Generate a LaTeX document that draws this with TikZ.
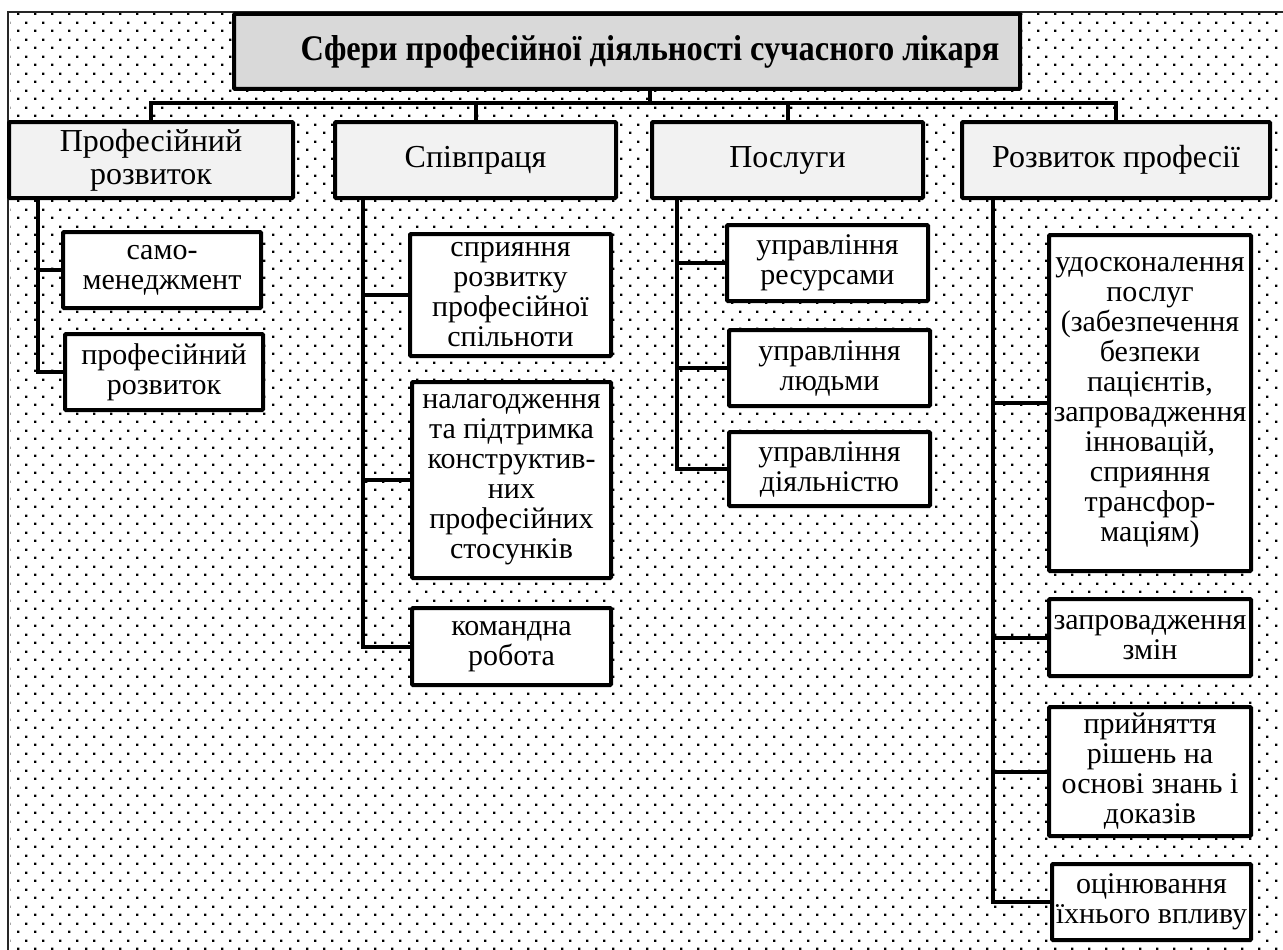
\documentclass[tikz,border=0pt]{standalone}
\usepackage{fontspec}
\setmainfont{Liberation Serif}
\usetikzlibrary{patterns}
\pgfdeclarepatternformonly{mydots}{\pgfpointorigin}{\pgfqpoint{17pt}{17pt}}{\pgfqpoint{17pt}{17pt}}{%
  \pgfpathrectangle{\pgfqpoint{0pt}{0pt}}{\pgfqpoint{2.6pt}{2.6pt}}%
  \pgfpathrectangle{\pgfqpoint{8.5pt}{8.5pt}}{\pgfqpoint{2.6pt}{2.6pt}}%
  \pgfusepath{fill}%
}
\begin{document}
\begin{tikzpicture}[x=1pt,y=-1pt,
  box/.style={draw=black, line width=4pt, fill=white, align=center, inner sep=0pt,
    rounded corners=1pt, font=\fontsize{30}{30}\selectfont},
  head/.style={box, fill=black!5, font=\fontsize{32}{33}\selectfont},
  titlebox/.style={box, fill=black!15, font=\fontsize{36}{38}\selectfont\bfseries},
  conn/.style={line width=4pt}]
\path[use as bounding box] (0,0) rectangle (1283,950);
\fill[pattern=mydots] (10,14) rectangle (1283,950);
\draw[line width=1.5pt, black!85] (8,950) -- (8,12) -- (1283,12);

% title
\node[titlebox, minimum width=786pt, minimum height=75pt] (T) at (627,51.5)
  {\hspace*{46pt}\scalebox{0.9}[1]{Сфери професійної діяльності сучасного лікаря}};

% level 1
\node[head, minimum width=284pt, minimum height=76pt] (A) at (151,160) {Професійний\\розвиток};
\node[head, minimum width=281pt, minimum height=76pt] (B) at (475.5,160) {Співпраця};
\node[head, minimum width=271pt, minimum height=76pt] (C) at (787.5,160) {Послуги};
\node[head, minimum width=308pt, minimum height=76pt] (D) at (1116,160) {Розвиток професії};

% level 2 under A
\node[box, minimum width=198pt, minimum height=76pt] (A1) at (162,270) {само-\\менеджмент};
\node[box, minimum width=198pt, minimum height=76pt] (A2) at (164,372) {професійний\\розвиток};
% under B
\node[box, minimum width=201pt, minimum height=122pt] (B1) at (510.5,295) {сприяння\\розвитку\\професійної\\спільноти};
\node[box, minimum width=199pt, minimum height=196pt] (B2) at (511.5,480) {налагодження\\та підтримка\\конструктив-\\них\\професійних\\стосунків};
\node[box, minimum width=199pt, minimum height=77pt] (B3) at (511.5,646.5) {командна\\робота};
% under C
\node[box, minimum width=201pt, minimum height=76pt] (C1) at (827.5,263) {управління\\ресурсами};
\node[box, minimum width=201pt, minimum height=76pt] (C2) at (829.5,368) {управління\\людьми};
\node[box, minimum width=201pt, minimum height=74pt] (C3) at (829.5,469) {управління\\діяльністю};
% under D
\node[box, minimum width=202pt, minimum height=336pt] (D1) at (1150,403) {удосконалення\\послуг\\(забезпечення\\безпеки\\пацієнтів,\\запровадження\\інновацій,\\сприяння\\трансфор-\\маціям)};
\node[box, minimum width=202pt, minimum height=77pt] (D2) at (1150,637.5) {запровадження\\змін};
\node[box, minimum width=202pt, minimum height=129pt] (D3) at (1150,771.5) {прийняття\\рішень на\\основі знань і\\доказів};
\node[box, minimum width=199pt, minimum height=76pt] (D4) at (1151.5,902) {оцінювання\\їхнього впливу};

% connectors: title to level 1
\coordinate (bus) at (650,103);
\draw[conn] (T.south -| bus) -- (bus);
\draw[conn] (A.north) |- (bus) -| (D.north);
\draw[conn] (B.north) -- (B.north |- bus);
\draw[conn] (C.north) -- (C.north |- bus);

% spines
\coordinate (sa) at (38,0);
\coordinate (sb) at (363,0);
\coordinate (sc) at (677,0);
\coordinate (sd) at (993,0);
\draw[conn] (A.south -| sa) |- (A2.west);
\draw[conn] (A1.west -| sa) -- (A1.west);
\draw[conn] (B.south -| sb) |- (B3.west);
\draw[conn] (B1.west -| sb) -- (B1.west);
\draw[conn] (B2.west -| sb) -- (B2.west);
\draw[conn] (C.south -| sc) |- (C3.west);
\draw[conn] (C1.west -| sc) -- (C1.west);
\draw[conn] (C2.west -| sc) -- (C2.west);
\draw[conn] (D.south -| sd) |- (D4.west);
\draw[conn] (D1.west -| sd) -- (D1.west);
\draw[conn] (D2.west -| sd) -- (D2.west);
\draw[conn] (D3.west -| sd) -- (D3.west);
\end{tikzpicture}
\end{document}
